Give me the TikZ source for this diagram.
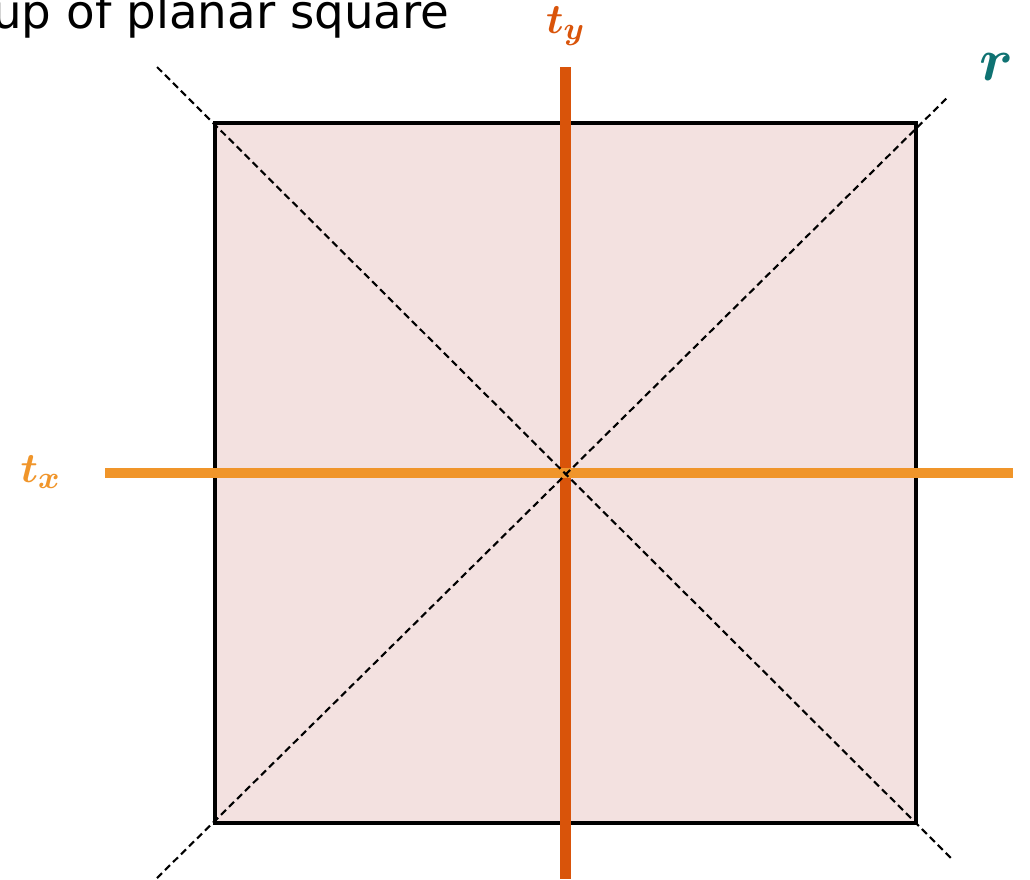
\documentclass[tikz,border=0pt]{standalone}
\usepackage{amsmath,amssymb}
\usepackage{bm}
\usepackage{fontspec}
\usepackage{xcolor}
\usepackage{tikz}
\usetikzlibrary{calc}
\newfontfamily\titlefont{DejaVu Sans}
\definecolor{squarepink}{RGB}{243,225,224}
\definecolor{tyorange}{RGB}{217,84,10}
\definecolor{txorange}{RGB}{240,149,42}
\definecolor{rteal}{RGB}{15,114,114}

\begin{document}
\begin{tikzpicture}[
    mirror/.style={line width=3.1pt},
    diag/.style={dashed, line width=0.6pt, dash pattern=on 2pt off 1.2pt},
    label/.style={inner sep=0pt, font=\fontsize{13}{15}\selectfont}
]
\useasboundingbox (0,0) rectangle (10.3,8.79);

% the square
\coordinate (SW) at (2.15,0.56);
\coordinate (NE) at (9.16,7.56);
\coordinate (O) at (5.655,4.06);
\draw[line width=1.1pt, fill=squarepink] (SW) rectangle (NE);

% ends of the symmetry axes
\coordinate (TyTop) at (5.655,8.12);
\coordinate (TyBot) at (5.655,0);
\coordinate (TxL) at (1.05,4.06);
\coordinate (TxR) at (10.13,4.06);
\coordinate (D1a) at (1.57,8.12);
\coordinate (D1b) at (9.53,0.19);
\coordinate (D2a) at (1.57,0.01);
\coordinate (D2b) at (9.49,7.83);

\draw[mirror, tyorange] (TyTop) -- (TyBot);
\draw[mirror, txorange] (TxL) -- (TxR);
\draw[diag] (D1a) -- (D1b);
\draw[diag] (D2a) -- (D2b);

% labels
\node[label, text=tyorange] (ty) at (5.66,8.53) {$\bm{t_y}$};
\node[label, text=txorange] (tx) at (0.41,4.07) {$\bm{t_x}$};
\node[label, text=rteal, font=\fontsize{16}{18}\selectfont] (r) at (9.97,8.12) {$\bm{r}$};
\node[inner sep=0pt, anchor=base east, font=\titlefont\fontsize{13.3}{15}\selectfont] (title) at (4.50,8.51) {up of planar square};
\end{tikzpicture}
\end{document}
